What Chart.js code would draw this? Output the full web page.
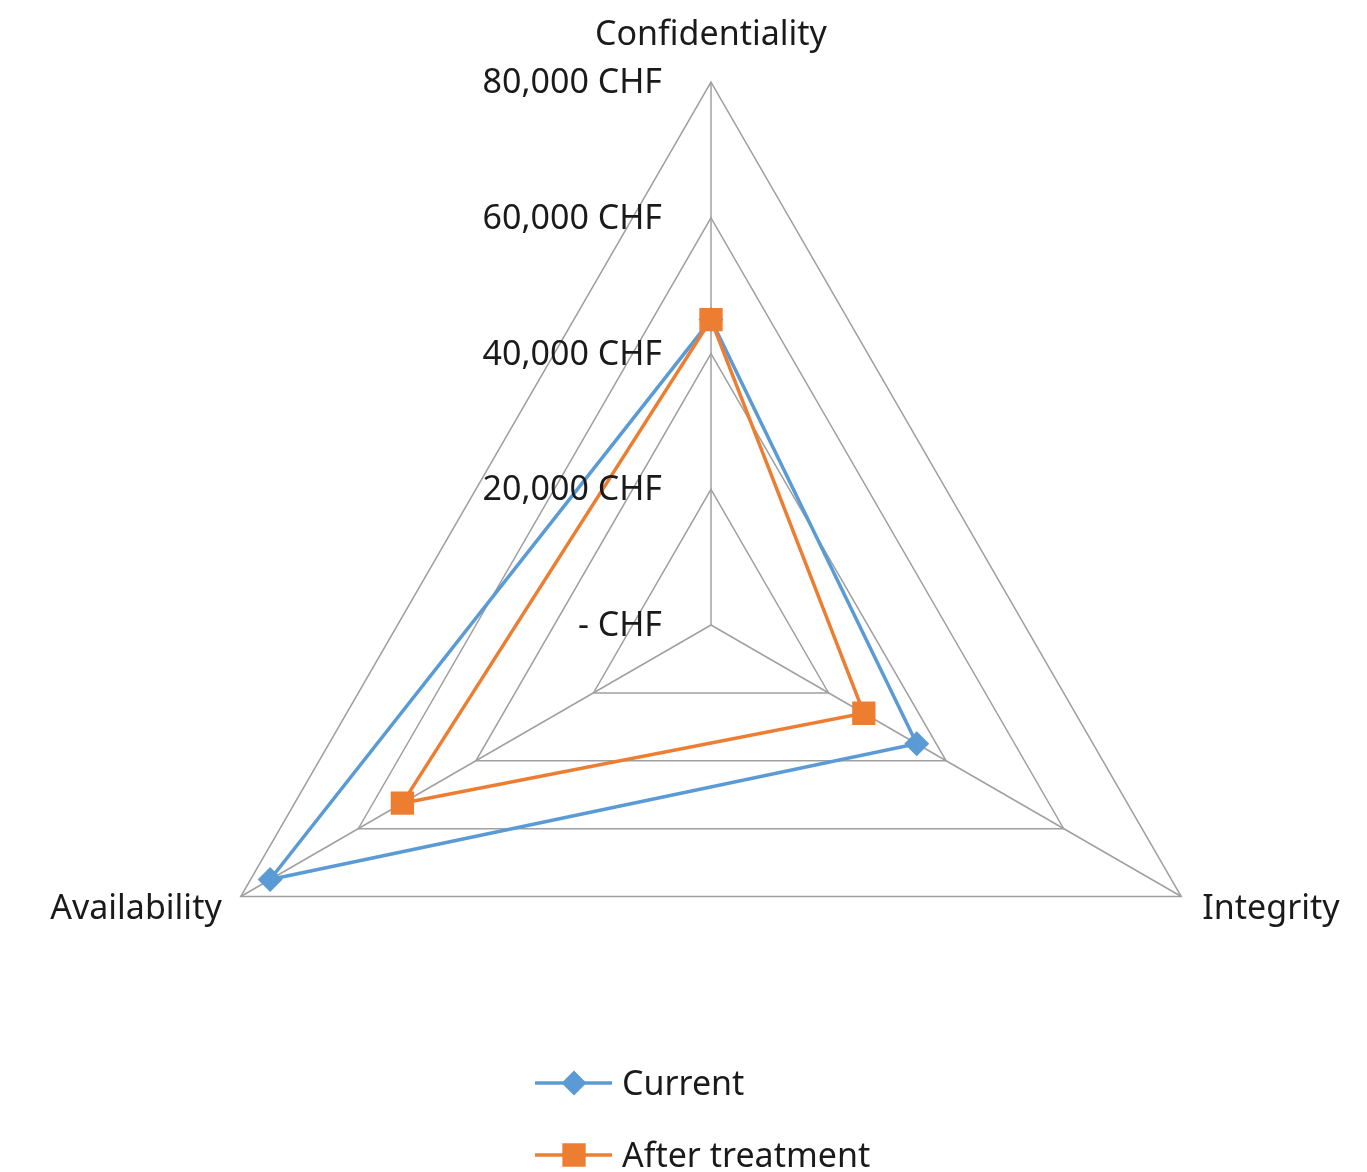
<!DOCTYPE html>
<html>
<head>
<meta charset="utf-8">
<script src="https://cdn.jsdelivr.net/npm/chart.js@4.4.0/dist/chart.umd.min.js"></script>
<style>
  html, body { margin: 0; padding: 0; background: #fff; }
  canvas { display: block; }
</style>
</head>
<body>
<canvas id="radar" width="1367" height="1172"></canvas>
<script>
// Chart data
const axes = ['Confidentiality', 'Integrity', 'Availability'];
const currentValues = [45000, 35000, 75000];
const afterValues = [45000, 26000, 52500];
const tickValues = [0, 20000, 40000, 60000, 80000];

const FONT = '34px "Noto Sans"';
const TEXT_COLOR = '#1a1a1a';

// Excel accounting style: zero shows as "-"
function formatCHF(v) {
    if (v === 0) return '- CHF';
    return v.toLocaleString('en-US') + ' CHF';
}

// Tick labels and axis names, placed from the radial scale
const labelPlugin = {
    id: 'labelPlugin',
    afterDraw(chart) {
        const scale = chart.scales.r;
        const ctx = chart.ctx;
        ctx.save();
        ctx.font = FONT;
        ctx.fillStyle = TEXT_COLOR;
        ctx.textBaseline = 'alphabetic';

        // value labels, left of the top axis
        ctx.textAlign = 'right';
        scale.ticks.forEach(t => {
            const y = scale.yCenter - scale.getDistanceFromCenterForValue(t.value);
            ctx.fillText(formatCHF(t.value), scale.xCenter - 49, y + 11);
        });

        // axis names
        axes.forEach((name, i) => {
            const p = scale.getPointPosition(i, scale.drawingArea);
            if (Math.abs(p.x - scale.xCenter) < 2) {
                ctx.textAlign = 'center';
                ctx.fillText(name, p.x, p.y - 37);
            } else if (p.x > scale.xCenter) {
                ctx.textAlign = 'left';
                ctx.fillText(name, p.x + 21, p.y + 22);
            } else {
                ctx.textAlign = 'right';
                ctx.fillText(name, p.x - 19, p.y + 22);
            }
        });
        ctx.restore();
    }
};

// Vertical legend below the chart
const legendPlugin = {
    id: 'legendPlugin',
    afterDraw(chart) {
        const ctx = chart.ctx;
        const rows = [1083, 1155];
        chart.data.datasets.forEach((ds, i) => {
            const y = rows[i];
            ctx.save();
            ctx.strokeStyle = ds.borderColor;
            ctx.lineWidth = ds.borderWidth;
            ctx.beginPath();
            ctx.moveTo(535, y);
            ctx.lineTo(612, y);
            ctx.stroke();
            ctx.fillStyle = ds.pointBackgroundColor;
            ctx.strokeStyle = ds.pointBorderColor;
            Chart.helpers.drawPoint(ctx, {
                pointStyle: ds.pointStyle,
                radius: ds.pointRadius,
                rotation: 0,
                borderWidth: 1
            }, 574, y);
            ctx.font = FONT;
            ctx.fillStyle = TEXT_COLOR;
            ctx.textAlign = 'left';
            ctx.textBaseline = 'alphabetic';
            ctx.fillText(ds.label, 622, y + 12);
            ctx.restore();
        });
    }
};

const ctx = document.getElementById('radar').getContext('2d');
const radarChart = new Chart(ctx, {
    type: 'radar',
    data: {
        labels: axes,
        datasets: [{
            label: 'Current',
            data: currentValues,
            order: 1,
            borderColor: '#5B9BD5',
            backgroundColor: '#5B9BD5',
            pointBackgroundColor: '#5B9BD5',
            pointBorderColor: '#5B9BD5',
            pointStyle: 'rectRot',
            pointRadius: 10,
            borderWidth: 3.5,
            fill: false,
            tension: 0
        }, {
            label: 'After treatment',
            data: afterValues,
            order: 0, // drawn on top, as in the original
            borderColor: '#ED7D31',
            backgroundColor: '#ED7D31',
            pointBackgroundColor: '#ED7D31',
            pointBorderColor: '#ED7D31',
            pointStyle: 'rect',
            pointRadius: 14,
            borderWidth: 3.5,
            fill: false,
            tension: 0
        }]
    },
    options: {
        responsive: false,
        animation: false,
        layout: {
            padding: { left: 168, top: 82, right: 113, bottom: 4 }
        },
        plugins: {
            legend: { display: false },
            tooltip: { enabled: false }
        },
        scales: {
            r: {
                min: 0,
                max: 80000,
                afterBuildTicks(scale) {
                    scale.ticks = tickValues.map(v => ({ value: v }));
                },
                ticks: { display: false, stepSize: 20000 },
                pointLabels: { display: false },
                grid: { color: '#a0a0a0', lineWidth: 1.5 },
                angleLines: { color: '#a0a0a0', lineWidth: 1.5 }
            }
        }
    },
    plugins: [labelPlugin, legendPlugin]
});
</script>
</body>
</html>
